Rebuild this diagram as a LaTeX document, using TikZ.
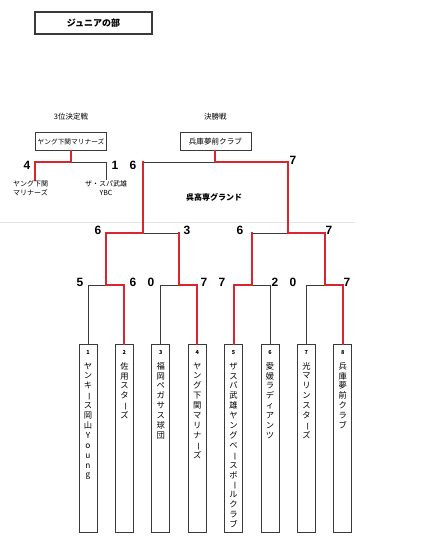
\documentclass[tikz,border=0pt]{standalone}
\usepackage{fontspec}
\setmainfont{Noto Sans CJK JP}
\newfontfamily\latinfont{Liberation Sans}
\usepackage{graphicx}
\usepackage{tikz}
\usetikzlibrary{positioning,calc}
\definecolor{Win}{HTML}{D9252E}
\definecolor{Line}{HTML}{3A3A3A}
\newcommand{\chouon}{\rotatebox[origin=c]{-90}{ー}}
\newcommand{\boxno}[1]{{\fontsize{5.5}{6}\selectfont\bfseries #1}}

\begin{document}
\begin{tikzpicture}[x=1pt,y=-1pt,
  win/.style={draw=Win,line width=2pt,line cap=rect},
  lose/.style={draw=Line,line width=0.8pt},
  namebox/.style={draw=Line,line width=0.8pt,minimum width=71pt,minimum height=18pt,inner sep=1pt,font=\fontsize{6.7}{7}\selectfont},
  teambox/.style={draw=Line,line width=0.8pt,minimum width=18pt,minimum height=188pt,inner sep=0pt},
  tate/.style={align=center,inner sep=0pt,font=\fontsize{8.3}{9.9}\selectfont},
  score/.style={font=\latinfont\bfseries\fontsize{12}{12}\selectfont},
  caption/.style={font=\fontsize{7.5}{9}\selectfont}]
  \useasboundingbox (0,0) rectangle (441,554);

  % title
  \node[draw=Line,line width=1.2pt,minimum width=117pt,minimum height=22pt,font=\bfseries\fontsize{9}{10}\selectfont] (title) at (93.5,23) {ジュニアの部};
  \draw[gray!20,line width=0.5pt] (0,222) -- (355,222);

  % teams
  \node[teambox,anchor=north] (t1) at (88,344) {};
  \node[teambox,right=17.6pt of t1] (t2) {};
  \node[teambox,right=17.6pt of t2] (t3) {};
  \node[teambox,right=17.6pt of t3] (t4) {};
  \node[teambox,right=17.6pt of t4] (t5) {};
  \node[teambox,right=17.6pt of t5] (t6) {};
  \node[teambox,right=17.6pt of t6] (t7) {};
  \node[teambox,right=17.6pt of t7] (t8) {};
  \node[tate,below=6pt of t1.north] (l1) {\boxno{1}\\[5pt]ヤ\\ン\\キ\\\chouon\\ス\\岡\\山\\Y\\o\\u\\n\\g};
  \node[tate,below=6pt of t2.north] (l2) {\boxno{2}\\[5pt]佐\\用\\ス\\タ\\\chouon\\ズ};
  \node[tate,below=6pt of t3.north] (l3) {\boxno{3}\\[5pt]福\\岡\\ペ\\ガ\\サ\\ス\\球\\団};
  \node[tate,below=6pt of t4.north] (l4) {\boxno{4}\\[5pt]ヤ\\ン\\グ\\下\\関\\マ\\リ\\ナ\\\chouon\\ズ};
  \node[tate,below=6pt of t5.north] (l5) {\boxno{5}\\[5pt]ザ\\ス\\パ\\武\\雄\\ヤ\\ン\\グ\\ベ\\\chouon\\ス\\ボ\\\chouon\\ル\\ク\\ラ\\ブ};
  \node[tate,below=6pt of t6.north] (l6) {\boxno{6}\\[5pt]愛\\媛\\ラ\\デ\\ィ\\ア\\ン\\ツ};
  \node[tate,below=6pt of t7.north] (l7) {\boxno{7}\\[5pt]光\\マ\\リ\\ン\\ス\\タ\\\chouon\\ズ};
  \node[tate,below=6pt of t8.north] (l8) {\boxno{8}\\[5pt]兵\\庫\\夢\\前\\ク\\ラ\\ブ};

  % junctions
  \coordinate (m12) at ($(t1.north)!.5!(t2.north)+(0,-59)$);
  \coordinate (m34) at ($(t3.north)!.5!(t4.north)+(0,-59)$);
  \coordinate (m56) at ($(t5.north)!.5!(t6.north)+(0,-59)$);
  \coordinate (m78) at ($(t7.north)!.5!(t8.north)+(0,-59)$);
  \coordinate (s1) at ($(m12)!.5!(m34)+(0,-52)$);
  \coordinate (s2) at ($(m56)!.5!(m78)+(0,-52)$);
  \coordinate (f) at ($(s1)!.5!(s2)+(0,-71)$);

  % first round
  \draw[lose] (t1.north) |- (m12);
  \draw[win] (t2.north) |- (m12);
  \draw[lose] (t3.north) |- (m34);
  \draw[win] (t4.north) |- (m34);
  \draw[lose] (t6.north) |- (m56);
  \draw[win] (t5.north) |- (m56);
  \draw[lose] (t7.north) |- (m78);
  \draw[win] (t8.north) |- (m78);

  % semifinals
  \draw[lose] (m34|-s1) -- (s1);
  \draw[win] (m34) -- (m34|-s1);
  \draw[win] (m12) |- (s1);
  \draw[lose] (m56|-s2) -- (s2);
  \draw[win] (m56) -- (m56|-s2);
  \draw[win] (m78) |- (s2);

  % final
  \node[namebox,above=11pt of f,font=\fontsize{7.6}{8}\selectfont] (champ) {兵庫夢前クラブ};
  \node[caption,above=9pt of champ] (fcap) {決勝戦};
  \draw[lose] (s1|-f) -- (f);
  \draw[win] (s1) -- (s1|-f);
  \draw[win] (s2) |- (f);
  \draw[win] (f) -- (champ.south);
  \node[caption,font=\bfseries\fontsize{8}{9}\selectfont] (ground) at (214,197) {呉高専グランド};

  % third place
  \coordinate (q) at (71,162);
  \coordinate (qa) at (35,180);
  \coordinate (qb) at (106,180);
  \node[namebox,above=11pt of q] (third) {ヤング下関マリナーズ};
  \node[caption,above=9pt of third] (tcap) {3位決定戦};
  \draw[lose] (qb) |- (q);
  \draw[win] (qa) |- (q);
  \draw[win] (q) -- (third.south);
  \node[align=center,font=\fontsize{7}{8.5}\selectfont] (qla) at (30.5,188) {ヤング下関\\マリナーズ};
  \node[align=center,font=\fontsize{7}{8.5}\selectfont] (qlb) at (106,188) {ザ・スパ武雄\\YBC};

  % scores
  \node[score] (sc1) at (80,282) {5};
  \node[score] (sc2) at (133,282) {6};
  \node[score] (sc3) at (151,282) {0};
  \node[score] (sc4) at (204,282) {7};
  \node[score] (sc5) at (222,282) {7};
  \node[score] (sc6) at (275,282) {2};
  \node[score] (sc7) at (293,282) {0};
  \node[score] (sc8) at (347,282) {7};
  \node[score] (ss1) at (98,230) {6};
  \node[score] (ss2) at (187,230) {3};
  \node[score] (ss3) at (240,230) {6};
  \node[score] (ss4) at (329,230) {7};
  \node[score] (sf1) at (133,165) {6};
  \node[score] (sf2) at (293,160) {7};
  \node[score] (sq1) at (27,165) {4};
  \node[score] (sq2) at (115,165) {1};
\end{tikzpicture}
\end{document}
